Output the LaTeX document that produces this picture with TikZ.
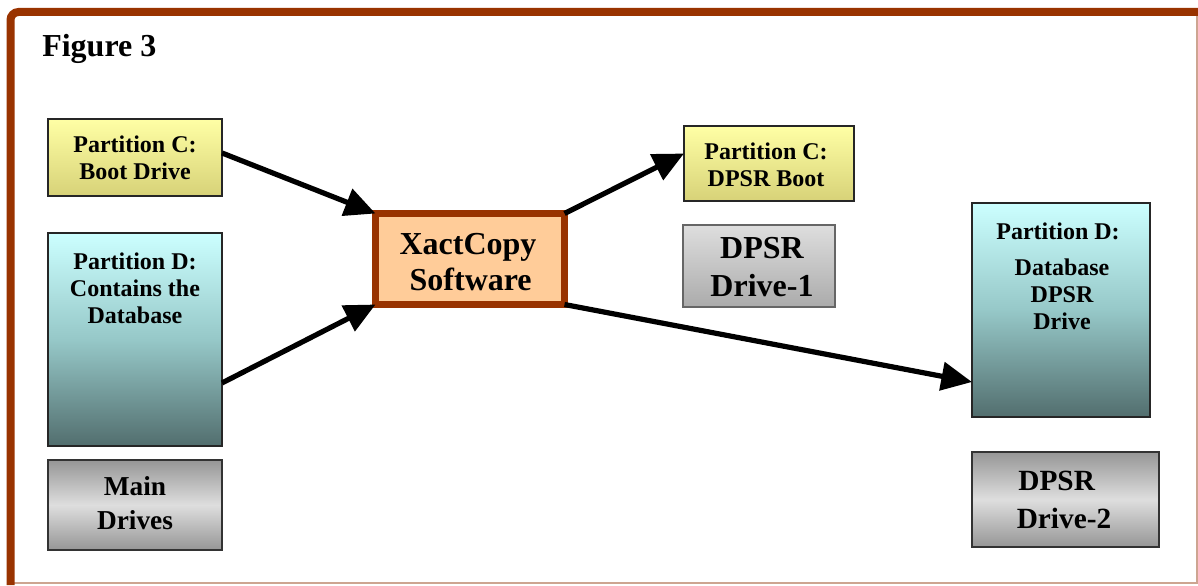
\documentclass[tikz,border=0pt]{standalone}
\usepackage{fontspec}
\setmainfont{Liberation Serif}
\usetikzlibrary{arrows.meta}
\definecolor{brownframe}{RGB}{153,51,0}
\definecolor{framelight}{RGB}{205,165,145}
\definecolor{ytop}{RGB}{255,255,165}
\definecolor{ybot}{RGB}{215,210,120}
\definecolor{ctop}{RGB}{204,255,255}
\definecolor{cmid}{RGB}{150,200,200}
\definecolor{cbot}{RGB}{82,110,110}
\definecolor{gedge}{RGB}{150,150,150}
\definecolor{gmid}{RGB}{222,222,222}
\definecolor{xfill}{RGB}{255,204,153}
\tikzset{
  box/.style={draw=black!85, line width=1pt, inner sep=0pt, outer sep=0pt},
  yellowbox/.style={box, top color=ytop, bottom color=ybot},
  cyanbox/.style={box, top color=ctop, bottom color=cbot, middle color=cmid},
  greybox/.style={box, draw=black!80, top color=gedge, bottom color=gedge, middle color=gmid},
  txt/.style={inner sep=0pt, align=center, font=\bfseries\fontsize{18}{20.25}\selectfont},
  bigtxt/.style={inner sep=0pt, align=center, font=\bfseries\fontsize{24}{26.5}\selectfont},
  arr/.style={line width=3.9pt, -{Triangle[length=23pt, width=21pt]}}
}
\begin{document}
\begin{tikzpicture}[x=0.75pt, y=-0.75pt]
\useasboundingbox (0,0) rectangle (1198,585);
% frame
\draw[framelight, line width=1pt] (1197,12) -- (1197,583) -- (11,583);
\draw[brownframe, line width=6pt, rounded corners=6pt] (10.5,585) -- (10.5,12) -- (1198,12);
% title
\node[anchor=base west, inner sep=0pt, font=\bfseries\fontsize{24}{28}\selectfont] (title) at (42,56) {Figure 3};
% left side boxes
\node[yellowbox, minimum width=130.5pt, minimum height=57.75pt] (cboot) at (135,157.5) {};
\node[txt] (cboottxt) at (135,158) {Partition C:\\Boot Drive};
\node[cyanbox, minimum width=130.5pt, minimum height=159.75pt] (dleft) at (135,339.5) {};
\node[txt] (dlefttxt) at (135,288) {Partition D:\\Contains the\\Database};
\node[greybox, minimum width=130.5pt, minimum height=67.5pt] (main) at (135,505) {};
\node[inner sep=0pt, align=center, font=\bfseries\fontsize{20.5}{25}\selectfont] (maintxt) at (135,503) {Main\\Drives};
% center
\node[draw=brownframe, line width=5.25pt, fill=xfill, inner sep=0pt, outer sep=0pt, minimum width=141.75pt, minimum height=68.25pt] (xc) at (470,259) {};
\node[bigtxt] (xctxt) at (468,262) {XactCopy\\\,Software};
% right side
\node[yellowbox, minimum width=127.5pt, minimum height=56.25pt] (cdpsr) at (769,163.5) {};
\node[txt] (cdpsrtxt) at (766,165) {Partition C:\\DPSR Boot};
\node[box, draw=black!60, line width=0.8pt, top color=gmid, bottom color=gedge!80, minimum width=114pt, minimum height=61.5pt] (drive1) at (759,266) {};
\node[inner sep=0pt, align=center, font=\bfseries\fontsize{24}{29}\selectfont] (drive1txt) at (762,267) {DPSR\\Drive-1};
\node[cyanbox, minimum width=133.5pt, minimum height=160.5pt] (dright) at (1061,310) {};
\node[txt] (drighttxt) at (1058,276) {Partition D:\\[7pt]\,\,Database\\\,\,DPSR\\\,\,Drive};
\node[greybox, minimum width=140.25pt, minimum height=71.25pt] (drive2) at (1065.5,499.5) {};
\node[inner sep=0pt, align=center, font=\bfseries\fontsize{22}{28.5}\selectfont] (drive2txt) at (1064,500) {DPSR\,\,\,\\Drive-2};
% arrows
\draw[arr] ([yshift=3.4pt]cboot.east) -- (xc.north west);
\draw[arr] ([yshift=-32.6pt]dleft.east) -- (xc.south west);
\draw[arr] (xc.north east) -- ([yshift=7.5pt]cdpsr.west);
\draw[arr] (xc.south east) -- ([yshift=-54pt]dright.west);
\end{tikzpicture}
\end{document}
